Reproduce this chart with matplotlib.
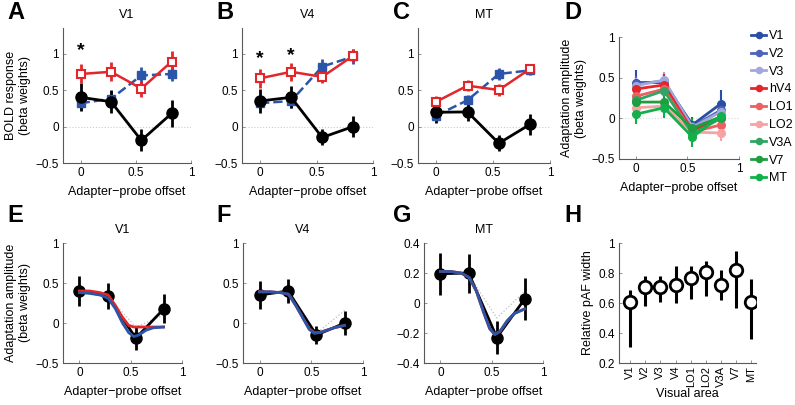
import numpy as np
import matplotlib.pyplot as plt

plt.rcParams['font.family'] = ['Liberation Sans', 'DejaVu Sans']

# adapter-probe offsets
offsets = [0, 0.275, 0.55, 0.825]

# top row: BOLD response (red = no adapter, blue = ?, black = adaptation)
resp_red = {'V1': [0.72, 0.75, 0.52, 0.89], 'V4': [0.66, 0.75, 0.68, 0.97], 'MT': [0.34, 0.56, 0.50, 0.79]}
resp_red_err = {'V1': [0.13, 0.13, 0.11, 0.14], 'V4': [0.13, 0.12, 0.09, 0.09], 'MT': [0.08, 0.08, 0.08, 0.07]}
resp_blue = {'V1': [0.32, 0.38, 0.70, 0.72], 'V4': [0.32, 0.35, 0.82, 0.96], 'MT': [0.15, 0.36, 0.72, 0.77]}
resp_blue_err = {'V1': [0.1, 0.1, 0.12, 0.1], 'V4': [0.08, 0.1, 0.1, 0.1], 'MT': [0.07, 0.07, 0.08, 0.07]}
adapt = {'V1': [0.40, 0.34, -0.19, 0.18], 'V4': [0.35, 0.40, -0.15, 0.0], 'MT': [0.195, 0.20, -0.23, 0.03]}
adapt_err = {'V1': [0.19, 0.16, 0.15, 0.18], 'V4': [0.17, 0.15, 0.11, 0.15], 'MT': [0.14, 0.13, 0.11, 0.14]}
stars = {'V1': [(0, 1.04)], 'V4': [(0, 0.93), (0.275, 0.97)], 'MT': []}

# panel D: adaptation amplitude for all areas
areas = ['V1', 'V2', 'V3', 'hV4', 'LO1', 'LO2', 'V3A', 'V7', 'MT']
area_colors = ['#2a4ea3', '#4f63b5', '#a3a8dc', '#e3262a', '#ee5f5f', '#f5a3a3', '#2fa464', '#1f9e3f', '#12b04a']
area_vals = [
    [0.44, 0.44, -0.08, 0.18],
    [0.42, 0.46, -0.10, 0.10],
    [0.40, 0.47, -0.11, 0.08],
    [0.36, 0.41, -0.15, 0.00],
    [0.27, 0.36, -0.17, -0.08],
    [0.13, 0.15, -0.17, -0.18],
    [0.22, 0.34, -0.19, 0.00],
    [0.20, 0.20, -0.12, 0.02],
    [0.05, 0.13, -0.23, 0.03],
]
area_err = [
    [0.15, 0.12, 0.1, 0.17],
    [0.1, 0.1, 0.08, 0.1],
    [0.1, 0.1, 0.08, 0.1],
    [0.12, 0.14, 0.1, 0.1],
    [0.1, 0.1, 0.08, 0.1],
    [0.08, 0.08, 0.08, 0.1],
    [0.1, 0.1, 0.1, 0.1],
    [0.1, 0.1, 0.12, 0.1],
    [0.12, 0.12, 0.12, 0.12],
]

# fitted model curves (bottom row)
fit_x = [0, 0.1, 0.2, 0.28, 0.35, 0.42, 0.48, 0.53, 0.58, 0.65, 0.72, 0.82]
fit_red = {
    'V1': [0.40, 0.40, 0.38, 0.35, 0.22, 0.07, -0.03, -0.05, -0.05, -0.05, -0.05, -0.05],
    'V4': [0.39, 0.39, 0.38, 0.36, 0.22, 0.06, -0.07, -0.12, -0.12, -0.09, -0.06, -0.03],
    'MT': [0.21, 0.21, 0.20, 0.17, 0.08, -0.06, -0.17, -0.21, -0.19, -0.12, -0.07, -0.04],
}
fit_blue = {
    'V1': [0.38, 0.37, 0.35, 0.31, 0.18, 0.0, -0.12, -0.17, -0.15, -0.09, -0.06, -0.05],
    'V4': [0.39, 0.39, 0.38, 0.36, 0.22, 0.06, -0.08, -0.13, -0.12, -0.09, -0.06, -0.03],
    'MT': [0.21, 0.21, 0.20, 0.17, 0.08, -0.06, -0.17, -0.21, -0.19, -0.12, -0.07, -0.04],
}
fit_gray = {
    'V1': [0.40, 0.34, -0.05, 0.10],
    'V4': [0.39, 0.37, -0.13, 0.16],
    'MT': [0.20, 0.19, -0.10, 0.08],
}

# panel H: relative pAF width
paf_areas = ['V1', 'V2', 'V3', 'V4', 'LO1', 'LO2', 'V3A', 'V7', 'MT']
paf_width = [0.61, 0.71, 0.71, 0.72, 0.77, 0.81, 0.72, 0.82, 0.61]
paf_lo = [0.31, 0.58, 0.61, 0.60, 0.63, 0.65, 0.62, 0.57, 0.36]
paf_hi = [0.69, 0.78, 0.78, 0.85, 0.85, 0.88, 0.82, 0.95, 0.76]

RED = '#e3262a'
BLUE = '#2a55a8'
W, H = 795, 405
FS_TICK = 8.5
FS_LAB = 9

fig = plt.figure(figsize=(W / 100, H / 100), dpi=100)


def make_ax(x0, x1, y0, y1):
    ax = fig.add_axes([x0 / W, 1 - y1 / H, (x1 - x0) / W, (y1 - y0) / H])
    for s in ['top', 'right']:
        ax.spines[s].set_visible(False)
    for s in ['left', 'bottom']:
        ax.spines[s].set_color('0.35')
        ax.spines[s].set_linewidth(0.8)
    ax.tick_params(direction='in', length=2.5, width=0.6, color='0.5', labelsize=FS_TICK, pad=3)
    return ax


def letter(x, y, s):
    fig.text(x / W, 1 - y / H, s, fontsize=17, fontweight='bold', ha='left', va='baseline')


# top row
top_pos = {'V1': (63, 191), 'V4': (242, 373), 'MT': (418, 550)}
for i, area in enumerate(['V1', 'V4', 'MT']):
    x0, x1 = top_pos[area]
    ax = make_ax(x0, x1, 28, 163)
    ax.axhline(0, color='0.8', lw=0.8, ls=':', zorder=0)
    ax.errorbar(offsets, resp_blue[area], yerr=resp_blue_err[area], color=BLUE, ls='--', lw=1.8,
                marker='s', ms=6, mfc=BLUE, mec=BLUE, elinewidth=2, capsize=0)
    ax.errorbar(offsets, adapt[area], yerr=adapt_err[area], color='black', lw=2,
                marker='o', ms=8, elinewidth=2, capsize=0)
    ax.errorbar(offsets, resp_red[area], yerr=resp_red_err[area], color=RED, lw=1.8,
                marker='s', ms=6, mfc='white', mec=RED, mew=1.5, elinewidth=2, capsize=0)
    for sx, sy in stars[area]:
        ax.text(sx, sy, '*', fontsize=14, fontweight='bold', ha='center', va='center')
    ax.set_xlim(-0.16, 1)
    ax.set_ylim(-0.5, 1.35)
    ax.set_xticks([0, 0.5, 1])
    ax.set_xticklabels(['0', '0.5', '1'])
    ax.set_yticks([-0.5, 0, 0.5, 1])
    ax.set_yticklabels(['\u22120.5', '0', '0.5', '1'])
    ax.set_title(area, fontsize=FS_LAB, pad=7)
    ax.set_xlabel('Adapter\u2212probe offset', fontsize=FS_LAB, labelpad=5)
    if i == 0:
        ax.set_ylabel('BOLD response\n(beta weights)', fontsize=FS_LAB, labelpad=3)

# panel D
ax = make_ax(619, 739, 37, 159)
ax.axhline(0, color='0.85', lw=0.8, ls=':', zorder=0)
handles = []
for name, col, vals, err in zip(areas, area_colors, area_vals, area_err):
    h = ax.errorbar(offsets, vals, yerr=err, color=col, lw=2, marker='o', ms=5.5,
                    elinewidth=1.5, capsize=0, label=name)
    handles.append(h[0])
ax.set_xlim(-0.16, 1)
ax.set_ylim(-0.5, 1)
ax.set_xticks([0, 0.5, 1])
ax.set_xticklabels(['0', '0.5', '1'])
ax.set_yticks([-0.5, 0, 0.5, 1])
ax.set_yticklabels(['\u22120.5', '0', '0.5', '1'])
ax.set_xlabel('Adapter\u2212probe offset', fontsize=FS_LAB, labelpad=5)
ax.set_ylabel('Adaptation amplitude\n(beta weights)', fontsize=FS_LAB, labelpad=3)
fig.legend(handles, areas, loc='upper left', bbox_to_anchor=(745 / W, 1 - 24 / H), frameon=False,
           fontsize=9, handlelength=1.2, handletextpad=0.25, labelspacing=0.46, borderpad=0,
           markerscale=0.8)

# bottom row
bot_pos = {'V1': (63, 182), 'V4': (243, 363), 'MT': (424, 543)}
for i, area in enumerate(['V1', 'V4', 'MT']):
    x0, x1 = bot_pos[area]
    ax = make_ax(x0, x1, 243, 363)
    ax.plot(offsets, fit_gray[area], color='0.75', lw=0.9, ls=':', zorder=1)
    ax.errorbar(offsets, adapt[area], yerr=adapt_err[area], color='black', lw=2,
                marker='o', ms=8, elinewidth=2, capsize=0, zorder=2)
    ax.plot(fit_x, fit_red[area], color=RED, lw=2, zorder=3)
    ax.plot(fit_x, fit_blue[area], color=BLUE, lw=2, zorder=4)
    ax.set_xlim(-0.16, 1)
    ax.set_xticks([0, 0.5, 1])
    ax.set_xticklabels(['0', '0.5', '1'])
    if area == 'MT':
        ax.set_ylim(-0.4, 0.4)
        ax.set_yticks([-0.4, -0.2, 0, 0.2, 0.4])
        ax.set_yticklabels(['\u22120.4', '\u22120.2', '0', '0.2', '0.4'])
    else:
        ax.set_ylim(-0.5, 1)
        ax.set_yticks([-0.5, 0, 0.5, 1])
        ax.set_yticklabels(['\u22120.5', '0', '0.5', '1'])
    ax.set_title(area, fontsize=FS_LAB, pad=7)
    ax.set_xlabel('Adapter\u2212probe offset', fontsize=FS_LAB, labelpad=5)
    if i == 0:
        ax.set_ylabel('Adaptation amplitude\n(beta weights)', fontsize=FS_LAB, labelpad=3)

# panel H
ax = make_ax(619, 756, 243, 363)
xpos = np.arange(1, len(paf_areas) + 1)
yerr = [np.array(paf_width) - np.array(paf_lo), np.array(paf_hi) - np.array(paf_width)]
ax.errorbar(xpos, paf_width, yerr=yerr, color='black', ls='none', marker='o', ms=9,
            mfc='white', mec='black', mew=2, elinewidth=2.2, capsize=0)
ax.set_xlim(0.28, 9.3)
ax.set_ylim(0.2, 1)
ax.set_yticks([0.2, 0.4, 0.6, 0.8, 1])
ax.set_yticklabels(['0.2', '0.4', '0.6', '0.8', '1'])
ax.set_xticks(xpos)
ax.set_xticklabels(paf_areas, rotation=90, fontsize=8)
ax.tick_params(axis='x', pad=2)
ax.set_xlabel('Visual area', fontsize=FS_LAB, labelpad=1)
ax.set_ylabel('Relative pAF width', fontsize=FS_LAB, labelpad=3)

letter(7, 19, 'A')
letter(216, 19, 'B')
letter(393, 19, 'C')
letter(564, 19, 'D')
letter(7, 222, 'E')
letter(216, 222, 'F')
letter(393, 222, 'G')
letter(564, 222, 'H')

fig.savefig('out.png', dpi=100)
